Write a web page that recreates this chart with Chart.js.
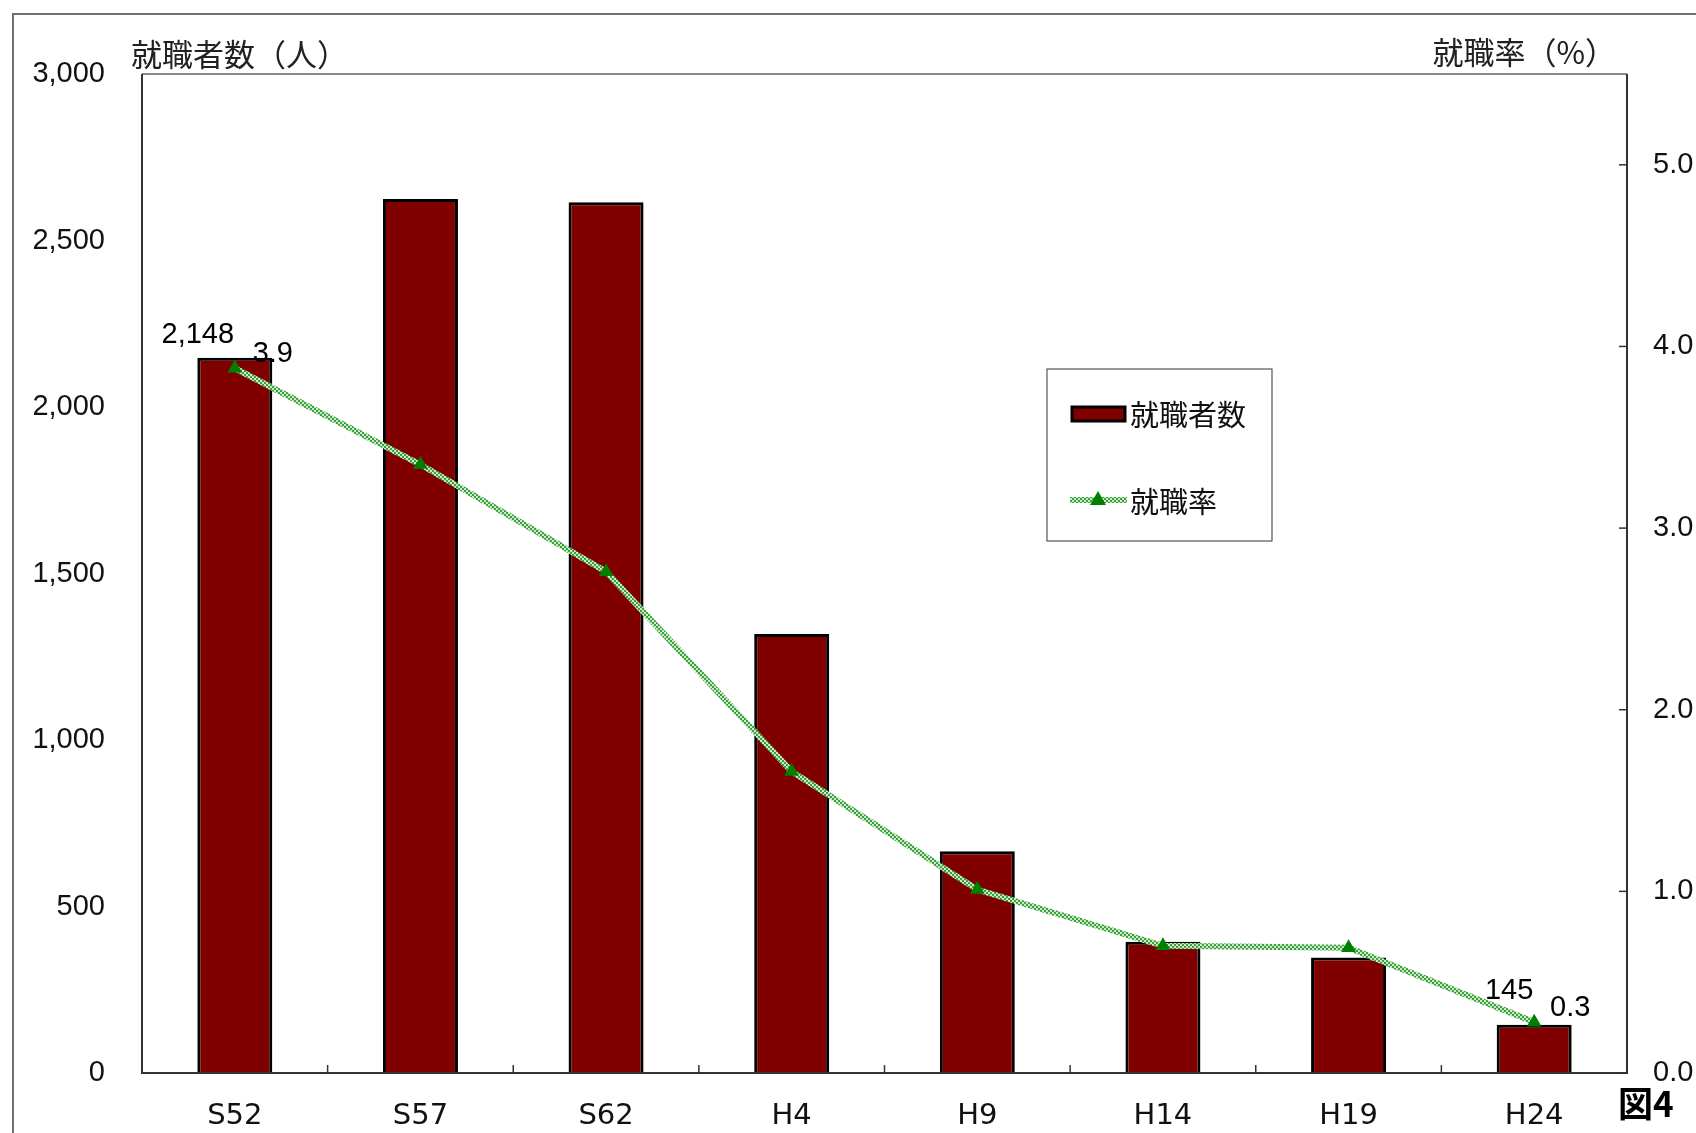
<!DOCTYPE html>
<html>
<head>
<meta charset="utf-8">
<script src="https://cdn.jsdelivr.net/npm/chart.js@4"></script>
<style>
  html, body { margin: 0; padding: 0; background: #fff; }
  #wrap { width: 1696px; height: 1133px; }
</style>
</head>
<body>
<div id="wrap"><canvas id="chart" width="1696" height="1133"></canvas></div>
<script>
// data
const categories = ['S52', 'S57', 'S62', 'H4', 'H9', 'H14', 'H19', 'H24'];
const employed = [2148, 2625, 2615, 1318, 666, 394, 347, 145];   // 就職者数（人）
const rate = [3.88, 3.35, 2.76, 1.66, 1.01, 0.70, 0.69, 0.28];  // 就職率（%）
const leftTicks = [0, 500, 1000, 1500, 2000, 2500, 3000];
const rightTicks = [0, 1, 2, 3, 4, 5];
const labelled = [0, 7];

const NUM = "'Liberation Sans', Arial, sans-serif";
const WIDE = "'DejaVu Sans', sans-serif";
const JP = "'Noto Sans CJK JP', sans-serif";

// dotted light-green line like the original
function linePattern() {
    const c = document.createElement('canvas');
    c.width = 4; c.height = 4;
    const g = c.getContext('2d');
    g.fillStyle = '#3f9f3f';
    g.fillRect(0, 0, 4, 4);
    g.fillStyle = '#c8ecc8';
    g.fillRect(0, 0, 2, 2);
    g.fillRect(2, 2, 2, 2);
    return g.createPattern(c, 'repeat');
}
const lineFill = linePattern();

const decorPlugin = {
    id: 'decor',
    afterDraw(chart) {
        const ctx = chart.ctx;
        const a = chart.chartArea;
        const x = chart.scales.x;
        const y2 = chart.scales.y2;
        ctx.save();

        // outer frame (runs off the picture on right/bottom)
        ctx.strokeStyle = '#707070';
        ctx.lineWidth = 2;
        ctx.beginPath();
        ctx.moveTo(13, 1140); ctx.lineTo(13, 14); ctx.lineTo(1700, 14);
        ctx.stroke();

        // plot frame
        ctx.strokeStyle = '#8a8a8a';
        ctx.beginPath(); ctx.moveTo(a.left, a.top); ctx.lineTo(a.right, a.top); ctx.stroke();
        ctx.strokeStyle = '#333';
        ctx.beginPath();
        ctx.moveTo(a.left, a.top); ctx.lineTo(a.left, a.bottom);
        ctx.lineTo(a.right, a.bottom); ctx.lineTo(a.right, a.top);
        ctx.stroke();

        // inward tick marks
        ctx.lineWidth = 1.5;
        for (let i = 1; i < categories.length; i++) {
            const px = (x.getPixelForValue(i - 1) + x.getPixelForValue(i)) / 2;
            ctx.beginPath(); ctx.moveTo(px, a.bottom); ctx.lineTo(px, a.bottom - 8); ctx.stroke();
        }
        rightTicks.forEach(v => {
            const py = y2.getPixelForValue(v);
            ctx.beginPath(); ctx.moveTo(a.right, py); ctx.lineTo(a.right - 8, py); ctx.stroke();
        });

        // axis titles
        ctx.fillStyle = '#222';
        ctx.font = '31px ' + JP;
        ctx.textBaseline = 'middle';
        ctx.textAlign = 'left';
        ctx.fillText('就職者数（人）', 131, 54);
        ctx.textAlign = 'right';
        ctx.fillText('就職率（%）', 1616, 52);

        // 図4
        ctx.fillStyle = '#000';
        ctx.font = 'bold 35px ' + JP;
        ctx.textAlign = 'left';
        ctx.fillText('図4', 1618, 1104);

        // data labels
        const bars = chart.getDatasetMeta(1).data;
        const pts = chart.getDatasetMeta(0).data;
        const barOff = { 0: [-37, -23], 7: [-25, -34] };
        const ptOff = { 0: [38, -14], 7: [36, -14] };
        ctx.font = '29px ' + NUM;
        ctx.textAlign = 'center';
        ctx.textBaseline = 'middle';
        labelled.forEach(i => {
            const b = bars[i], p = pts[i];
            ctx.fillText(employed[i].toLocaleString('en-US'), b.x + barOff[i][0], b.y + barOff[i][1]);
            ctx.fillText(rate[i].toFixed(1), p.x + ptOff[i][0], p.y + ptOff[i][1]);
        });

        // legend box
        ctx.strokeStyle = '#555';
        ctx.lineWidth = 1.2;
        ctx.strokeRect(1047, 369, 225, 172);
        ctx.fillStyle = '#800000';
        ctx.fillRect(1072, 407, 53, 14);
        ctx.strokeStyle = '#000';
        ctx.lineWidth = 3;
        ctx.strokeRect(1072, 407, 53, 14);
        ctx.strokeStyle = lineFill;
        ctx.lineWidth = 6;
        ctx.beginPath(); ctx.moveTo(1070, 500); ctx.lineTo(1127, 500); ctx.stroke();
        ctx.fillStyle = '#008000';
        ctx.beginPath();
        ctx.moveTo(1098, 491); ctx.lineTo(1106, 505); ctx.lineTo(1090, 505); ctx.closePath();
        ctx.fill();
        ctx.fillStyle = '#111';
        ctx.font = '29px ' + JP;
        ctx.textAlign = 'left';
        ctx.fillText('就職者数', 1130, 415);
        ctx.fillText('就職率', 1130, 502);
        ctx.restore();
    }
};

new Chart(document.getElementById('chart'), {
    data: {
        labels: categories,
        datasets: [{
            type: 'line',
            label: '就職率',
            data: rate,
            yAxisID: 'y2',
            borderColor: lineFill,
            borderWidth: 6,
            pointStyle: 'triangle',
            pointRadius: 8.5,
            pointBackgroundColor: '#008000',
            pointBorderColor: '#008000',
            pointBorderWidth: 0,
            tension: 0,
            order: 0
        }, {
            type: 'bar',
            label: '就職者数',
            data: employed,
            yAxisID: 'y',
            backgroundColor: '#800000',
            borderColor: '#000',
            borderWidth: 3,
            categoryPercentage: 1,
            barPercentage: 0.404,
            order: 1
        }]
    },
    options: {
        responsive: false,
        animation: false,
        devicePixelRatio: 1,
        layout: { padding: { top: 74, left: 0, right: 0, bottom: 0 } },
        plugins: { legend: { display: false }, tooltip: { enabled: false } },
        scales: {
            x: {
                grid: { display: false, drawTicks: false, offset: true },
                border: { display: false },
                afterFit: s => { s.height = 60; },
                ticks: {
                    padding: 26,
                    color: '#111',
                    font: { family: WIDE, size: 29 }
                }
            },
            y: {
                position: 'left',
                min: 0, max: 3000,
                grid: { display: false, drawTicks: false },
                border: { display: false },
                afterFit: s => { s.width = 142; },
                afterBuildTicks: s => { s.ticks = leftTicks.map(v => ({ value: v })); },
                ticks: {
                    padding: 37,
                    color: '#111',
                    font: { family: NUM, size: 29 },
                    callback: v => v.toLocaleString('en-US')
                }
            },
            y2: {
                position: 'right',
                min: 0, max: 5.5,
                grid: { display: false, drawTicks: false },
                border: { display: false },
                afterFit: s => { s.width = 69; },
                afterBuildTicks: s => { s.ticks = rightTicks.map(v => ({ value: v })); },
                ticks: {
                    padding: 26,
                    color: '#111',
                    font: { family: NUM, size: 29 },
                    callback: v => v.toFixed(1)
                }
            }
        }
    },
    plugins: [decorPlugin]
});
</script>
</body>
</html>
